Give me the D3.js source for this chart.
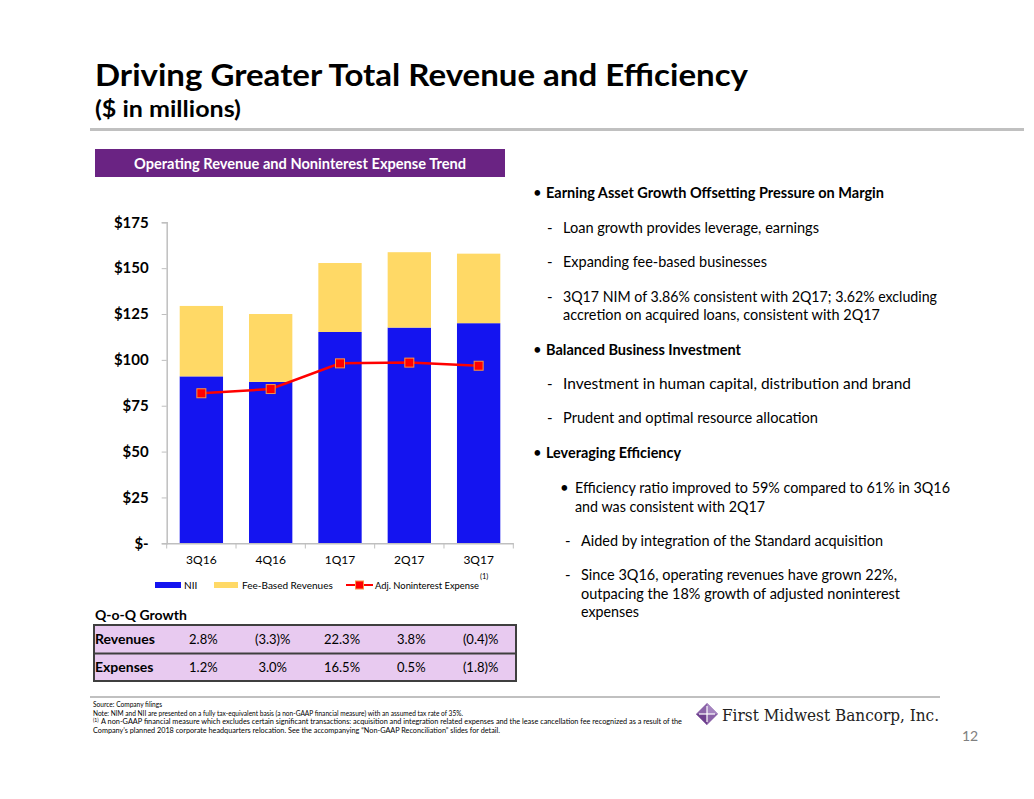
<!DOCTYPE html>
<html><head><meta charset="utf-8">
<script src="https://cdn.jsdelivr.net/npm/d3@7"></script>
<style>
html,body{margin:0;padding:0;background:#fff;}
svg{display:block;font-family:Lato,"Open Sans",sans-serif;}
</style></head>
<body>
<svg id="c" width="1034" height="799"></svg>
<script>
// ---- data ----
const categories = ["3Q16","4Q16","1Q17","2Q17","3Q17"];
const nii = [91.0, 88.0, 115.2, 117.6, 120.0];
const feeBased = [38.4, 37.0, 37.6, 41.1, 37.9];
const adjExpense = [81.8, 84.1, 98.1, 98.5, 96.8];
const yTicks = [0,25,50,75,100,125,150,175];
const yTickLabels = ["$-","$25","$50","$75","$100","$125","$150","$175"];
const seriesNames = ["NII","Fee-Based Revenues","Adj. Noninterest Expense"];
const revenueGrowth = ["2.8%","(3.3)%","22.3%","3.8%","(0.4)%"];
const expenseGrowth = ["1.2%","3.0%","16.5%","0.5%","(1.8)%"];

const svg = d3.select("#c");
svg.append("rect").attr("width",1034).attr("height",799).attr("fill","#fff");

function fit(sel, w){ sel.attr("textLength", w).attr("lengthAdjust","spacingAndGlyphs"); return sel; }

// ---- title ----
fit(svg.append("text").attr("x",95).attr("y",86).attr("font-size",31).attr("font-weight",700)
  .attr("fill","#000").text("Driving Greater Total Revenue and Efficiency"), 653);
fit(svg.append("text").attr("x",95).attr("y",117).attr("font-size",22).attr("font-weight",700)
  .attr("fill","#000").text("($ in millions)"), 146);
svg.append("rect").attr("x",90).attr("y",128).attr("width",934).attr("height",3).attr("fill","#c0c0c0");

// ---- chart header ----
svg.append("rect").attr("x",95).attr("y",149).attr("width",410).attr("height",28).attr("fill","#6a2383");
fit(svg.append("text").attr("x",134).attr("y",168.5).attr("font-size",15)
  .attr("font-weight",700).attr("fill","#fff").text("Operating Revenue and Noninterest Expense Trend"), 332);

// ---- scales ----
const x = d3.scaleBand().domain(categories).range([166.7,513.3]).paddingInner(0.375).paddingOuter(0.1875);
const y = d3.scaleLinear().domain([0,175]).range([543.3,222.3]);

const g = svg.append("g");
// bars
const stackData = categories.map((c,i)=>({cat:c, NII:nii[i], Fee:feeBased[i]}));
const stack = d3.stack().keys(["NII","Fee"])(stackData);
const colors = {NII:"#1414f0", Fee:"#ffd966"};
stack.forEach(layer=>{
  g.append("g").selectAll("rect").data(layer).join("rect")
    .attr("x",d=>x(d.data.cat)).attr("width",x.bandwidth())
    .attr("y",d=>y(d[1])).attr("height",d=>y(d[0])-y(d[1]))
    .attr("fill",colors[layer.key]);
});

// y axis
const yAxis = d3.axisLeft(y).tickValues(yTicks).tickFormat((d,i)=>yTickLabels[i]).tickSize(5).tickPadding(13);
const ya = g.append("g").attr("transform","translate(166.7,0)").call(yAxis);
ya.select(".domain").attr("stroke","#bfbfbf").attr("stroke-width",1.5);
ya.selectAll(".tick line").attr("stroke","#bfbfbf");
ya.selectAll(".tick text").attr("font-size",15).attr("font-weight",700).attr("fill","#000").attr("font-family","Lato");

// x axis
const xa = g.append("g").attr("transform","translate(0,543.3)").call(d3.axisBottom(x).tickSize(0).tickPadding(10));
xa.select(".domain").attr("stroke","#bfbfbf").attr("stroke-width",1.5);
xa.selectAll(".tick text").attr("font-size",12).attr("fill","#000").attr("font-family","Lato").attr("dy","0.9em");
const bounds = categories.map(c=>x(c)-x.step()*x.paddingInner()/2).concat([x.range()[1]]);
g.append("g").selectAll("line").data(bounds).join("line")
  .attr("x1",d=>d).attr("x2",d=>d).attr("y1",543.3).attr("y2",548.5).attr("stroke","#bfbfbf");

// line series
const cx = c=>x(c)+x.bandwidth()/2;
const lineGen = d3.line().x((d,i)=>cx(categories[i])).y(d=>y(d));
g.append("path").datum(adjExpense).attr("d",lineGen).attr("fill","none").attr("stroke","#ff0000").attr("stroke-width",2.5);
g.append("g").selectAll("rect").data(adjExpense).join("rect")
  .attr("x",(d,i)=>cx(categories[i])-4.5).attr("y",d=>y(d)-4.5).attr("width",9).attr("height",9)
  .attr("fill","#ff0000").attr("stroke","#f79646").attr("stroke-width",1);

// legend
const lg = svg.append("g").attr("font-size",10).attr("fill","#000");
lg.append("rect").attr("x",155).attr("y",582).attr("width",26).attr("height",6).attr("fill",colors.NII);
lg.append("text").attr("x",184).attr("y",589).text(seriesNames[0]);
lg.append("rect").attr("x",214).attr("y",582).attr("width",24).attr("height",6).attr("fill",colors.Fee);
lg.append("text").attr("x",242).attr("y",589).text(seriesNames[1]);
lg.append("line").attr("x1",346).attr("x2",373).attr("y1",585).attr("y2",585).attr("stroke","#ff0000").attr("stroke-width",2);
lg.append("rect").attr("x",355.5).attr("y",581).attr("width",8).attr("height",8).attr("fill","#ff0000").attr("stroke","#f79646");
fit(lg.append("text").attr("x",375).attr("y",589).text(seriesNames[2]), 104);
lg.append("text").attr("x",480).attr("y",579).attr("font-size",7.5).text("(1)");

// table
svg.append("text").attr("x",95).attr("y",620).attr("font-size",14).attr("font-weight",700).text("Q-o-Q Growth");
svg.append("rect").attr("x",94).attr("y",625).attr("width",422).attr("height",56)
  .attr("fill","#e8caf0").attr("stroke","#3f3f3f").attr("stroke-width",2);
svg.append("line").attr("x1",94).attr("x2",516).attr("y1",653.5).attr("y2",653.5).attr("stroke","#3f3f3f").attr("stroke-width",2);
const rows = [["Revenues",revenueGrowth,644],["Expenses",expenseGrowth,672]];
rows.forEach(r=>{
  svg.append("text").attr("x",95).attr("y",r[2]).attr("font-size",14).attr("font-weight",700).text(r[0]);
  svg.append("g").selectAll("text").data(r[1]).join("text")
    .attr("x",(d,i)=>cx(categories[i])+2).attr("y",r[2]).attr("text-anchor","middle")
    .attr("font-size",13).attr("fill","#000").text(d=>d);
});

// bullets
const bullets = [
  {m:"•",mx:533,tx:546,y:198,b:true,t:"Earning Asset Growth Offsetting Pressure on Margin",w:338},
  {m:"-",mx:547,tx:563,y:233,t:"Loan growth provides leverage, earnings",w:256},
  {m:"-",mx:547,tx:563,y:267,t:"Expanding fee-based businesses",w:204},
  {m:"-",mx:547,tx:563,y:302,t:"3Q17 NIM of 3.86% consistent with 2Q17; 3.62% excluding",w:374},
  {tx:563,y:320,t:"accretion on acquired loans, consistent with 2Q17",w:317},
  {m:"•",mx:533,tx:546,y:355,b:true,t:"Balanced Business Investment",w:195},
  {m:"-",mx:547,tx:563,y:389,t:"Investment in human capital, distribution and brand",w:348},
  {m:"-",mx:547,tx:563,y:423,t:"Prudent and optimal resource allocation",w:255},
  {m:"•",mx:533,tx:546,y:458,b:true,t:"Leveraging Efficiency",w:135},
  {m:"•",mx:560,tx:575,y:493,t:"Efficiency ratio improved to 59% compared to 61% in 3Q16",w:375},
  {tx:575,y:512,t:"and was consistent with 2Q17",w:190},
  {m:"-",mx:565,tx:581,y:546,t:"Aided by integration of the Standard acquisition",w:302},
  {m:"-",mx:565,tx:581,y:580,t:"Since 3Q16, operating revenues have grown 22%,",w:316},
  {tx:581,y:599,t:"outpacing the 18% growth of adjusted noninterest",w:319},
  {tx:581,y:617,t:"expenses",w:58}
];
const bg = svg.append("g").attr("font-size",15).attr("fill","#000");
bullets.forEach(d=>{
  if(d.m) bg.append("text").attr("x",d.mx).attr("y",d.y).text(d.m);
  fit(bg.append("text").attr("x",d.tx).attr("y",d.y).attr("font-weight",d.b?700:400).text(d.t), d.w);
});

// footer
svg.append("rect").attr("x",90).attr("y",696).attr("width",850).attr("height",2).attr("fill","#c0c0c0");
const fg = svg.append("g").attr("font-size",7).attr("fill","#000");
fit(fg.append("text").attr("x",93).attr("y",707).text("Source: Company filings"),69);
fit(fg.append("text").attr("x",93).attr("y",716).text("Note: NIM and NII are presented on a fully tax-equivalent basis (a non-GAAP financial measure) with an assumed tax rate of 35%."),370);
fg.append("text").attr("x",93).attr("y",722).attr("font-size",5).text("(1)");
fit(fg.append("text").attr("x",101).attr("y",724).text("A non-GAAP financial measure which excludes certain significant transactions: acquisition and integration related expenses and the lease cancellation fee recognized as a result of the"),581);
fit(fg.append("text").attr("x",93).attr("y",733).text("Company’s planned 2018 corporate headquarters relocation. See the accompanying “Non-GAAP Reconciliation” slides for detail."),407);

// logo
const lgG = svg.append("g").attr("transform","translate(707,714)");
lgG.append("path").attr("d","M0,-11 L11,0 L0,11 L-11,0 Z").attr("fill","#8b63a8");
lgG.append("path").attr("d","M0,-11 L11,0 L0,0 Z").attr("fill","#a585c0");
lgG.append("path").attr("d","M-11,0 L0,11 L0,0 Z").attr("fill","#6e3f8e");
lgG.append("line").attr("x1",-8).attr("x2",8).attr("y1",0).attr("y2",0).attr("stroke","#fff").attr("stroke-width",1.2);
lgG.append("line").attr("x1",0).attr("x2",0).attr("y1",-8).attr("y2",8).attr("stroke","#fff").attr("stroke-width",1.2);
fit(svg.append("text").attr("x",722).attr("y",721).attr("font-size",17).attr("font-family","'DejaVu Serif','Liberation Serif',serif")
  .attr("fill","#222").text("First Midwest Bancorp, Inc."),217);
svg.append("text").attr("x",962).attr("y",741).attr("font-size",14).attr("fill","#808080").text("12");
</script>
</body></html>
